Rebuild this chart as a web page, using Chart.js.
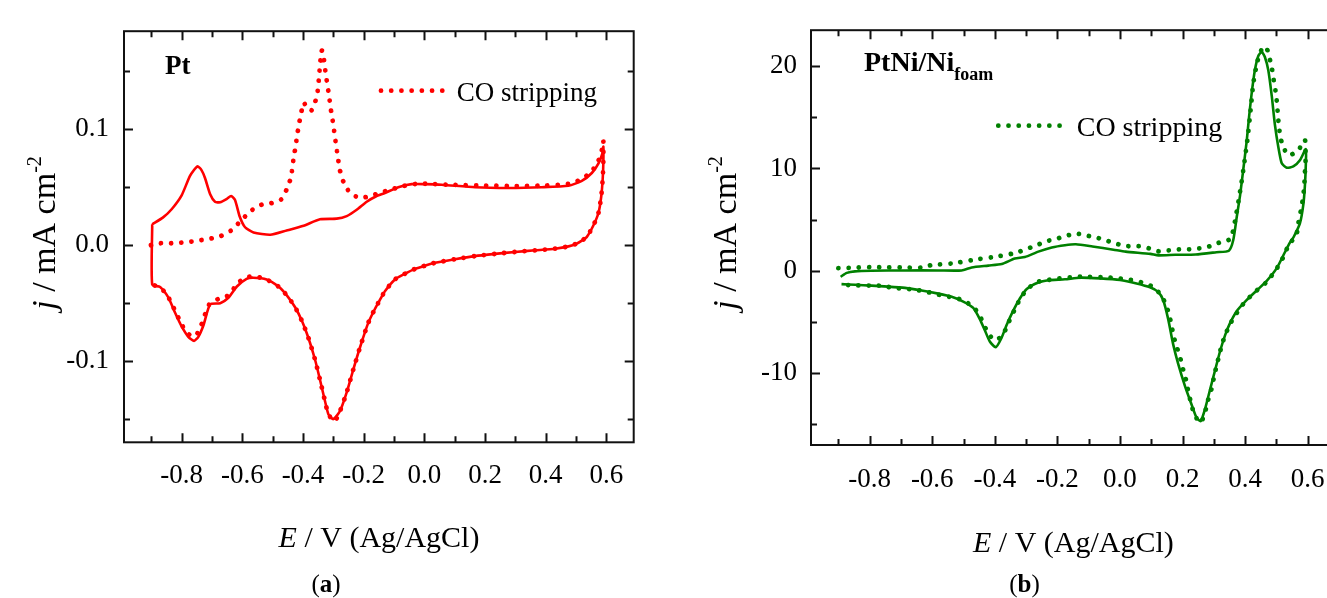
<!DOCTYPE html>
<html>
<head>
<meta charset="utf-8">
<script src="https://cdn.jsdelivr.net/npm/chart.js@4.4.0/dist/chart.umd.min.js"></script>
<style>
  html, body { margin: 0; padding: 0; background: #fff; overflow: hidden; width: 1327px; height: 598px; }
  #caixaPt { position: absolute; left: 0; top: 0; width: 660px; height: 598px; }
  #caixaPtNi { position: absolute; left: 680px; top: 0; width: 666px; height: 598px; }
</style>
</head>
<body>
<div id="caixaPt"><canvas id="graficoPt" width="660" height="598"></canvas></div>
<div id="caixaPtNi"><canvas id="graficoPtNi" width="666" height="598"></canvas></div>
<script>
// eixos
const xRotulos = [-0.8, -0.6, -0.4, -0.2, 0.0, 0.2, 0.4, 0.6];
const xMarcas = [-0.9, -0.8, -0.7, -0.6, -0.5, -0.4, -0.3, -0.2, -0.1, 0.0, 0.1, 0.2, 0.3, 0.4, 0.5, 0.6];
const yRotulosPt = [-0.1, 0.0, 0.1];
const yMarcasPt = [-0.15, -0.1, -0.05, 0.0, 0.05, 0.1, 0.15];
const yRotulosPtNi = [-10, 0, 10, 20];
const yMarcasPtNi = [-15, -10, -5, 0, 5, 10, 15, 20];

// (a) Pt - voltametria base
const ptE = [-0.897, -0.861, -0.833, -0.800, -0.772, -0.748, -0.735, -0.723, -0.706, -0.690, -0.673, -0.651, -0.637, -0.624, -0.609, -0.591, -0.563, -0.508, -0.454, -0.398, -0.344, -0.289, -0.256, -0.223, -0.190, -0.160, -0.130, -0.086, -0.042, 0.002, 0.057, 0.167, 0.277, 0.387, 0.475, 0.519, 0.552, 0.574, 0.588, 0.590,
  0.590, 0.588, 0.583, 0.574, 0.557, 0.535, 0.519, 0.503, 0.475, 0.431, 0.365, 0.299, 0.233, 0.167, 0.101, 0.035, 0.002, -0.031, -0.064, -0.097, -0.130, -0.146, -0.163, -0.185, -0.212, -0.234, -0.256, -0.278, -0.300, -0.316, -0.327, -0.344, -0.360, -0.382, -0.404, -0.426, -0.454, -0.481, -0.520, -0.564, -0.586, -0.618, -0.646, -0.673, -0.706, -0.728, -0.745, -0.759, -0.778, -0.800, -0.822, -0.844, -0.871, -0.897, -0.897];
const ptJ = [0.018, 0.024, 0.031, 0.043, 0.060, 0.068, 0.065, 0.058, 0.044, 0.0375, 0.037, 0.040, 0.0425, 0.039, 0.025, 0.0155, 0.011, 0.009, 0.0127, 0.0168, 0.0224, 0.0229, 0.0251, 0.0306, 0.0375, 0.042, 0.045, 0.050, 0.0527, 0.0527, 0.0522, 0.050, 0.0494, 0.050, 0.0513, 0.0555, 0.0623, 0.0706, 0.080, 0.085,
  0.072, 0.058, 0.042, 0.028, 0.017, 0.007, 0.004, 0.0015, -0.001, -0.003, -0.0044, -0.0058, -0.0075, -0.0094, -0.0121, -0.0152, -0.0177, -0.0204, -0.0246, -0.0295, -0.0397, -0.047, -0.055, -0.067, -0.088, -0.107, -0.127, -0.143, -0.150, -0.146, -0.135, -0.116, -0.099, -0.080, -0.065, -0.0535, -0.043, -0.0356, -0.0295, -0.028, -0.029, -0.0356, -0.0453, -0.050, -0.051, -0.069, -0.079, -0.0825, -0.079, -0.070, -0.058, -0.045, -0.036, -0.034, 0.018];

// (a) Pt - CO stripping
const ptCoE = [-0.901, -0.869, -0.836, -0.803, -0.769, -0.736, -0.703, -0.670, -0.637, -0.605, -0.571, -0.538, -0.505, -0.472, -0.453, -0.440, -0.435, -0.430, -0.424, -0.419, -0.413, -0.406, -0.398, -0.385, -0.373, -0.363, -0.353, -0.349, -0.346, -0.343, -0.339, -0.333, -0.330, -0.325, -0.320, -0.314, -0.310, -0.304, -0.299, -0.294, -0.289, -0.284, -0.278, -0.267, -0.247, -0.215, -0.181, -0.148, -0.110, -0.070, -0.030, 0.010, 0.100, 0.200, 0.300, 0.400, 0.475, 0.519, 0.552, 0.574, 0.586, 0.590,
  0.590, 0.588, 0.583, 0.574, 0.557, 0.535, 0.519, 0.503, 0.475, 0.431, 0.365, 0.299, 0.233, 0.167, 0.101, 0.035, 0.002, -0.031, -0.064, -0.097, -0.130, -0.146, -0.163, -0.185, -0.212, -0.234, -0.256, -0.278, -0.296, -0.316, -0.327, -0.344, -0.360, -0.382, -0.404, -0.426, -0.454, -0.481, -0.517, -0.550, -0.583, -0.617, -0.643, -0.676, -0.709, -0.734, -0.753, -0.770, -0.787, -0.810, -0.830, -0.850, -0.875, -0.897];
const ptCoJ = [0.000, 0.0017, 0.0017, 0.0022, 0.003, 0.0044, 0.0058, 0.008, 0.0127, 0.021, 0.0298, 0.0348, 0.0362, 0.0395, 0.0486, 0.0582, 0.0673, 0.0767, 0.0858, 0.0954, 0.1046, 0.114, 0.123, 0.118, 0.116, 0.121, 0.1305, 0.1396, 0.149, 0.158, 0.1678, 0.167, 0.1575, 0.148, 0.139, 0.129, 0.120, 0.1107, 0.1016, 0.092, 0.083, 0.074, 0.0643, 0.0549, 0.0458, 0.0408, 0.0422, 0.045, 0.048, 0.051, 0.0528, 0.053, 0.052, 0.0515, 0.051, 0.0515, 0.053, 0.057, 0.064, 0.073, 0.083, 0.090,
  0.072, 0.058, 0.042, 0.028, 0.017, 0.007, 0.004, 0.0015, -0.001, -0.003, -0.0044, -0.0058, -0.0075, -0.0094, -0.0121, -0.0152, -0.0177, -0.0204, -0.0246, -0.0295, -0.0397, -0.047, -0.055, -0.067, -0.088, -0.107, -0.127, -0.143, -0.152, -0.146, -0.135, -0.116, -0.099, -0.080, -0.065, -0.0535, -0.043, -0.0356, -0.030, -0.0274, -0.0274, -0.033, -0.043, -0.046, -0.051, -0.068, -0.078, -0.078, -0.0742, -0.063, -0.052, -0.042, -0.036, -0.034];

// (b) PtNi/Ni foam - voltametria base
const niE = [-0.893, -0.873, -0.847, -0.794, -0.687, -0.581, -0.506, -0.474, -0.421, -0.378, -0.336, -0.304, -0.261, -0.218, -0.176, -0.141, -0.088, -0.021, 0.018, 0.097, 0.123, 0.176, 0.242, 0.308, 0.348, 0.362, 0.373, 0.384, 0.394, 0.405, 0.413, 0.421, 0.431, 0.442, 0.453, 0.463, 0.474, 0.485, 0.495, 0.506, 0.517, 0.533, 0.554, 0.575, 0.594,
  0.594, 0.591, 0.586, 0.575, 0.555, 0.543, 0.527, 0.501, 0.469, 0.437, 0.400, 0.373, 0.352, 0.336, 0.320, 0.304, 0.288, 0.272, 0.258, 0.245, 0.229, 0.208, 0.186, 0.170, 0.154, 0.138, 0.122, 0.096, 0.053, 0.000, -0.064, -0.128, -0.176, -0.229, -0.261, -0.298, -0.320, -0.342, -0.363, -0.379, -0.397, -0.416, -0.432, -0.448, -0.469, -0.501, -0.538, -0.581, -0.634, -0.687, -0.741, -0.794, -0.847, -0.890];
const niJ = [-0.59, -0.21, -0.06, 0.0, 0.03, 0.03, 0.03, 0.32, 0.5, 0.65, 1.19, 1.34, 1.87, 2.28, 2.5, 2.59, 2.37, 2.06, 1.87, 1.65, 1.5, 1.56, 1.59, 1.81, 1.96, 3.0, 5.23, 7.42, 9.9, 12.7, 15.2, 17.4, 19.6, 21.0, 21.4, 20.9, 19.6, 17.1, 14.3, 12.1, 10.5, 10.07, 10.2, 10.8, 11.9,
  10.5, 8.35, 6.49, 4.62, 3.3, 2.75, 1.81, 0.25, -0.99, -1.93, -3.02, -3.95, -5.1, -6.29, -7.85, -9.72, -11.6, -13.5, -14.7, -14.4, -13.1, -11.3, -9.1, -7.2, -4.73, -2.86, -2.08, -1.62, -1.24, -0.9, -0.75, -0.68, -0.84, -0.93, -1.15, -1.78, -2.71, -3.95, -5.36, -6.6, -7.48, -6.92, -5.82, -4.73, -3.64, -3.02, -2.55, -2.24, -1.93, -1.68, -1.55, -1.46, -1.37, -1.31];

// (b) PtNi/Ni foam - CO stripping
const niCoE = [-0.900, -0.850, -0.799, -0.740, -0.690, -0.634, -0.602, -0.536, -0.469, -0.403, -0.337, -0.272, -0.233, -0.205, -0.171, -0.137, -0.105, -0.070, -0.038, -0.007, 0.025, 0.059, 0.092, 0.124, 0.158, 0.192, 0.224, 0.256, 0.288, 0.322, 0.354, 0.362, 0.370, 0.387, 0.397, 0.408, 0.418, 0.426, 0.437, 0.447, 0.457, 0.467, 0.477, 0.486, 0.491, 0.497, 0.501, 0.504, 0.507, 0.511, 0.519, 0.538, 0.568, 0.591,
  0.593, 0.591, 0.589, 0.585, 0.578, 0.570, 0.563, 0.549, 0.533, 0.517, 0.495, 0.466, 0.437, 0.400, 0.374, 0.352, 0.336, 0.325, 0.316, 0.307, 0.299, 0.292, 0.281, 0.272, 0.260, 0.253, 0.237, 0.226, 0.218, 0.211, 0.202, 0.194, 0.183, 0.172, 0.165, 0.158, 0.147, 0.128, 0.101, 0.069, 0.035, -0.030, -0.128, -0.195, -0.229, -0.263, -0.298, -0.321, -0.339, -0.355, -0.371, -0.386, -0.402, -0.424, -0.440, -0.460, -0.493, -0.526, -0.559, -0.592, -0.625, -0.658, -0.725, -0.758, -0.800, -0.862, -0.892];
const niCoJ = [0.25, 0.3, 0.35, 0.33, 0.31, 0.31, 0.56, 0.72, 1.06, 1.34, 1.72, 2.43, 2.9, 3.1, 3.43, 3.62, 3.43, 3.2, 2.9, 2.6, 2.4, 2.4, 2.2, 1.9, 2.0, 2.1, 2.1, 2.2, 2.4, 2.8, 3.1, 4.0, 5.23, 8.35, 10.5, 13.0, 15.9, 18.3, 20.2, 21.3, 21.8, 21.9, 20.9, 19.7, 18.7, 17.6, 16.6, 15.5, 14.4, 13.4, 12.3, 11.3, 11.7, 12.8,
  10.8, 9.6, 8.35, 7.1, 5.86, 4.62, 3.36, 2.9, 2.12, 1.03, -0.06, -1.18, -1.93, -3.02, -4.1, -5.2, -6.3, -7.3, -8.4, -9.5, -10.6, -11.6, -12.7, -13.8, -14.8, -14.8, -14.0, -12.8, -11.8, -10.7, -9.7, -8.7, -7.6, -6.5, -5.42, -4.42, -3.33, -2.24, -1.52, -1.15, -0.9, -0.68, -0.59, -0.75, -0.9, -1.09, -1.83, -2.87, -3.95, -4.98, -6.07, -6.6, -6.79, -5.98, -4.89, -3.86, -3.02, -2.64, -2.49, -2.24, -2.02, -1.83, -1.68, -1.47, -1.45, -1.42, -1.31];

const vermelho = "#ff0000";
const verde = "#008000";
const serifa = '"Liberation Serif", "Times New Roman", serif';

Chart.defaults.font.family = serifa;
Chart.defaults.color = "#000";

function pontos(xs, ys) {
  return xs.map((x, i) => ({ x: x, y: ys[i] }));
}

function ehMaior(v, lista) {
  return lista.some((m) => Math.abs(m - v) < 1e-9);
}

// marcas de escala para dentro nos quatro lados + moldura
const marcasInternas = {
  id: "marcas",
  afterDatasetsDraw(chart, args, op) {
    const { ctx, chartArea: a } = chart;
    const sx = chart.scales.x;
    const sy = chart.scales.y;
    ctx.save();
    ctx.strokeStyle = "#111";
    ctx.lineWidth = 2;
    ctx.beginPath();
    op.xMarcas.forEach((v) => {
      const px = Math.round(sx.getPixelForValue(v)) + 0.5;
      const L = ehMaior(v, op.xRotulos) ? 9 : 6;
      ctx.moveTo(px, a.bottom); ctx.lineTo(px, a.bottom - L);
      ctx.moveTo(px, a.top); ctx.lineTo(px, a.top + L);
    });
    op.yMarcas.forEach((v) => {
      const py = Math.round(sy.getPixelForValue(v)) + 0.5;
      const L = ehMaior(v, op.yRotulos) ? 9 : 6;
      ctx.moveTo(a.left, py); ctx.lineTo(a.left + L, py);
      ctx.moveTo(a.right, py); ctx.lineTo(a.right - L, py);
    });
    ctx.stroke();
    ctx.strokeRect(a.left, a.top, a.right - a.left, a.bottom - a.top);
    ctx.restore();
  },
};

function escreve(ctx, item) {
  ctx.save();
  ctx.translate(item.x, item.y);
  if (item.rot) ctx.rotate(item.rot);
  ctx.fillStyle = "#000";
  ctx.textAlign = "left";
  ctx.textBaseline = "alphabetic";
  let w = 0;
  item.partes.forEach((p) => { ctx.font = p.f; w += ctx.measureText(p.t).width; });
  let x = item.centro ? -w / 2 : 0;
  item.partes.forEach((p) => {
    ctx.font = p.f;
    ctx.fillText(p.t, x, p.dy || 0);
    x += ctx.measureText(p.t).width;
  });
  ctx.restore();
}

// títulos dos eixos, rótulos de painel e legenda
const textos = {
  id: "textos",
  afterDraw(chart, args, op) {
    const ctx = chart.ctx;
    op.itens.forEach((item) => escreve(ctx, item));
    const lg = op.legenda;
    const ds = chart.data.datasets[lg.indice];
    ctx.save();
    ctx.strokeStyle = ds.borderColor;
    ctx.lineWidth = ds.borderWidth;
    ctx.lineCap = "round";
    ctx.setLineDash(ds.borderDash);
    ctx.beginPath();
    ctx.moveTo(lg.x0, lg.y);
    ctx.lineTo(lg.x1, lg.y);
    ctx.stroke();
    ctx.restore();
    escreve(ctx, { x: lg.tx, y: lg.ty, partes: [{ t: ds.label, f: lg.fonte }] });
  },
};

function criaGrafico(canvas, cfg) {
  return new Chart(canvas, {
    type: "scatter",
    data: {
      datasets: [
        {
          label: "CO stripping",
          data: pontos(cfg.coE, cfg.coJ),
          showLine: true,
          borderColor: cfg.cor,
          borderWidth: 4.8,
          borderDash: [0.01, 10.2],
          borderCapStyle: "round",
          pointRadius: 0,
          tension: 0.2,
          order: 0,
        },
        {
          label: "base",
          data: pontos(cfg.baseE, cfg.baseJ),
          showLine: true,
          borderColor: cfg.cor,
          borderWidth: 2.6,
          pointRadius: 0,
          tension: 0.2,
          order: 1,
        },
      ],
    },
    options: {
      responsive: false,
      animation: false,
      layout: { padding: cfg.margem },
      plugins: {
        legend: { display: false },
        tooltip: { enabled: false },
        marcas: { xMarcas: xMarcas, xRotulos: xRotulos, yMarcas: cfg.yMarcas, yRotulos: cfg.yRotulos },
        textos: { itens: cfg.textos, legenda: cfg.legenda },
      },
      scales: {
        x: {
          type: "linear",
          min: cfg.xMin,
          max: cfg.xMax,
          grid: { display: false, drawTicks: false },
          border: { display: false },
          afterBuildTicks: (s) => { s.ticks = xRotulos.map((v) => ({ value: v })); },
          afterFit: (s) => { s.height = cfg.alturaX; },
          ticks: {
            autoSkip: false,
            maxRotation: 0,
            padding: cfg.padX,
            font: { size: 27 },
            callback: (v) => Number(v).toFixed(1),
          },
        },
        y: {
          type: "linear",
          min: cfg.yMin,
          max: cfg.yMax,
          grid: { display: false, drawTicks: false },
          border: { display: false },
          afterBuildTicks: (s) => { s.ticks = cfg.yRotulos.map((v) => ({ value: v })); },
          afterFit: (s) => { s.width = cfg.larguraY; },
          ticks: {
            autoSkip: false,
            padding: cfg.padY,
            font: { size: 27 },
            callback: cfg.formatoY,
          },
        },
      },
    },
    plugins: [marcasInternas, textos],
  });
}

const fReg = (s) => s + "px " + serifa;
const fIta = (s) => "italic " + s + "px " + serifa;
const fNeg = (s) => "bold " + s + "px " + serifa;

criaGrafico(document.getElementById("graficoPt"), {
  cor: vermelho,
  baseE: ptE, baseJ: ptJ, coE: ptCoE, coJ: ptCoJ,
  xMin: -0.990, xMax: 0.690, yMin: -0.170, yMax: 0.1846,
  yRotulos: yRotulosPt, yMarcas: yMarcasPt,
  formatoY: (v) => Number(v).toFixed(1),
  margem: { left: 0, top: 14, right: 26.3, bottom: 0 },
  alturaX: 155.7, larguraY: 124, padX: 17.5, padY: 15,
  textos: [
    { x: 379, y: 546.7, centro: true, partes: [{ t: "E", f: fIta(30) }, { t: " / V (Ag/AgCl)", f: fReg(30) }] },
    { x: 55, y: 233, rot: -Math.PI / 2, centro: true, partes: [{ t: "j", f: fIta(34) }, { t: " / mA cm", f: fReg(34) }, { t: "-2", f: fReg(20), dy: -14 }] },
    { x: 326, y: 592, centro: true, partes: [{ t: "(", f: fReg(25) }, { t: "a", f: fNeg(25) }, { t: ")", f: fReg(25) }] },
    { x: 165, y: 74, partes: [{ t: "Pt", f: fNeg(27) }] },
  ],
  legenda: { indice: 0, x0: 381, x1: 443, y: 90.7, tx: 456.7, ty: 100.7, fonte: fReg(27) },
});

criaGrafico(document.getElementById("graficoPtNi"), {
  cor: verde,
  baseE: niE, baseJ: niJ, coE: niCoE, coJ: niCoJ,
  xMin: -0.9875, xMax: 0.7223, yMin: -17.04, yMax: 23.52,
  yRotulos: yRotulosPtNi, yMarcas: yMarcasPtNi,
  formatoY: (v) => String(v),
  margem: { left: 0, top: 11, right: 0, bottom: 0 },
  alturaX: 153, larguraY: 131, padX: 18.5, padY: 14,
  textos: [
    { x: 393.4, y: 551.7, centro: true, partes: [{ t: "E", f: fIta(30) }, { t: " / V (Ag/AgCl)", f: fReg(30) }] },
    { x: 56, y: 233, rot: -Math.PI / 2, centro: true, partes: [{ t: "j", f: fIta(34) }, { t: " / mA cm", f: fReg(34) }, { t: "-2", f: fReg(20), dy: -14 }] },
    { x: 344.5, y: 592, centro: true, partes: [{ t: "(", f: fReg(25) }, { t: "b", f: fNeg(25) }, { t: ")", f: fReg(25) }] },
    { x: 184, y: 70.7, partes: [{ t: "PtNi/Ni", f: fNeg(28) }, { t: "foam", f: fNeg(18), dy: 9.3 }] },
  ],
  legenda: { indice: 0, x0: 318.3, x1: 380, y: 125.7, tx: 396.7, ty: 136, fonte: fReg(28) },
});
</script>
</body>
</html>
